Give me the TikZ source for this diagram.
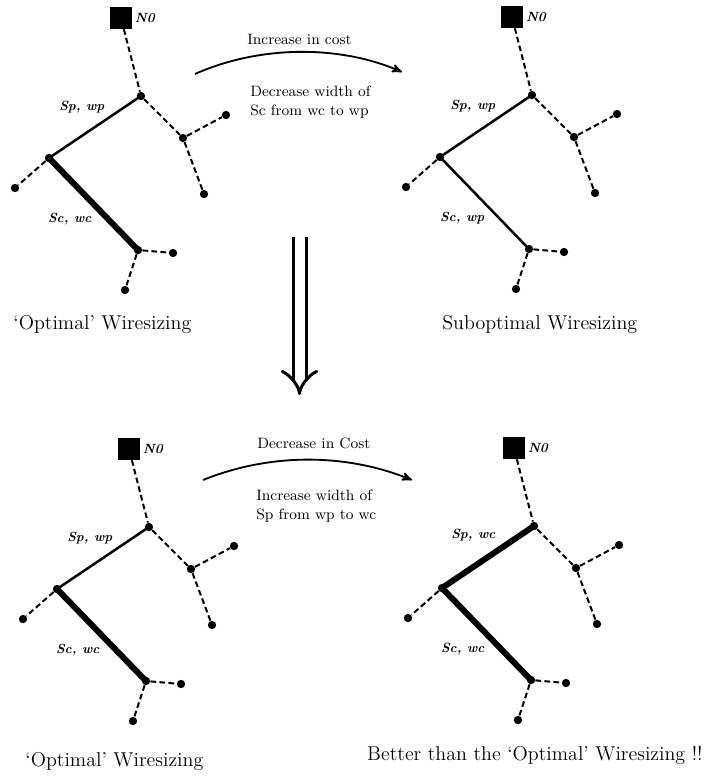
\documentclass[tikz,border=0pt]{standalone}
\usepackage{tikz}
\usetikzlibrary{arrows}
\usetikzlibrary{arrows.meta}

\begin{document}
\begin{tikzpicture}[x=0.6pt, y=-0.6pt,
  dot/.style={circle, fill=black, inner sep=0pt, minimum size=5pt},
  root/.style={rectangle, fill=black, inner sep=0pt, minimum size=13pt},
  tap/.style={line width=1.2pt, dash pattern=on 3.4pt off 2pt},
  wp/.style={line width=1.5pt, line cap=round},
  wc/.style={line width=3.6pt, line cap=round},
  seglabel/.style={font=\footnotesize\bfseries\itshape, inner sep=1pt},
  note/.style={font=\small, anchor=west, align=left, inner sep=0pt},
  caption/.style={font=\large, inner sep=0pt}]
\useasboundingbox (0,0) rectangle (706,776);

% the four trees, each placed by its first Steiner point
\foreach \tx/\ty/\t/\sp/\sc in {141/96/ta/wp/wc, 532/95/tb/wp/wp, 149/527/tc/wp/wc, 534/526/td/wc/wc} {
  \begin{scope}[shift={(\tx,\ty)}]
    \node[root, label={[seglabel, inner sep=1.5pt]right:N0}] (\t0) at (-20,-78) {};
    \node[dot] (\t1) at (0,0) {};
    \node[dot] (\t2) at (42,42) {};
    \node[dot] (\t3) at (85,19) {};
    \node[dot] (\t4) at (63,98) {};
    \node[dot] (\t5) at (-92,62) {};
    \node[dot] (\t6) at (-126,92) {};
    \node[dot] (\t7) at (-3,154) {};
    \node[dot] (\t8) at (32,157) {};
    \node[dot] (\t9) at (-16,194) {};
    % rest of the net
    \draw[tap] (\t0) -- (\t1) (\t1) -- (\t2) (\t2) -- (\t3) (\t2) -- (\t4)
      (\t5) -- (\t6) (\t7) -- (\t8) (\t7) -- (\t9);
    % parent and child segments
    \draw[\sp] (\t1.center) -- node[seglabel, pos=0.35, above left=1pt] {Sp, \sp} (\t5.center);
    \draw[\sc] (\t5.center) -- node[seglabel, pos=0.66, left=7pt] {Sc, \sc} (\t7.center);
  \end{scope}
}

% moves between the trees
\coordinate (ia) at (195,74);
\coordinate (ib) at (402,72);
\draw[->, >=stealth', line width=1.1pt] (ia) .. controls (260,45) and (340,45) .. (ib);
\node[note] (cost1) at (247,39) {Increase in cost};
\node[note] (how1) at (250,102) {Decrease width of\\Sc from wc to wp};

\coordinate (ic) at (203,480);
\coordinate (id) at (412,480);
\draw[->, >=stealth', line width=1.1pt] (ic) .. controls (270,453) and (345,453) .. (id);
\node[note] (cost2) at (257,443) {Decrease in Cost};
\node[note] (how2) at (256,506) {Increase width of\\Sp from wp to wc};

\coordinate (down0) at (299.5,237);
\coordinate (down1) at (299.5,395);
\draw[line width=1.8pt, double distance=6pt, -{Implies[length=12pt, width=17pt]}] (down0) -- (down1);

\node[caption, anchor=west] (capa) at (13,325) {‘Optimal’ Wiresizing};
\node[caption, anchor=west] (capb) at (442,325) {Suboptimal Wiresizing};
\node[caption, anchor=west] (capc) at (25,762) {‘Optimal’ Wiresizing};
\node[caption, anchor=east] (capd) at (703,755) {Better than the ‘Optimal’ Wiresizing !!};
\end{tikzpicture}
\end{document}
